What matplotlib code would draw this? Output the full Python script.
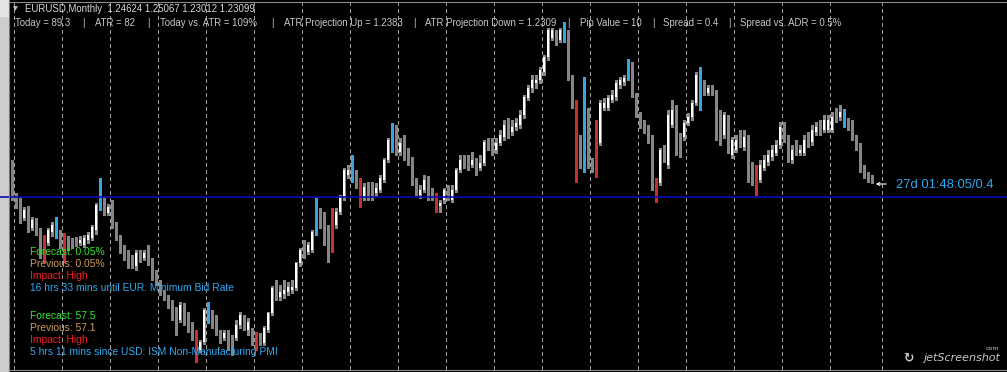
import numpy as np
import matplotlib
matplotlib.use("Agg")
import matplotlib.pyplot as plt
from matplotlib.patches import Rectangle
from matplotlib.lines import Line2D

# ---------------- data (EURUSD monthly OHLC) ----------------
opens = [
    1.2755, 1.2005, 1.183, 1.143, 1.163, 1.118, 1.138, 1.113, 1.0505, 1.0805,
    1.108, 1.123, 1.108, 1.0755, 1.088, 1.083, 1.088, 1.0805, 1.0755, 1.088,
    1.093, 1.113, 1.1755, 1.188, 1.1555, 1.1755, 1.1255, 1.093, 1.063, 1.048,
    1.043, 1.023, 1.0555, 1.043, 1.058, 1.033, 1.0005, 0.983, 0.958, 0.943,
    0.9255, 0.9005, 0.888, 0.9255, 0.893, 0.8705, 0.8455, 0.813, 0.833, 0.913,
    0.908, 0.893, 0.858, 0.843, 0.8555, 0.838, 0.843, 0.8755, 0.893, 0.863,
    0.863, 0.8505, 0.843, 0.8305, 0.863, 0.9055, 0.963, 0.9455, 0.953, 0.958,
    0.963, 0.968, 1.0305, 1.068, 1.058, 1.063, 1.1055, 1.1505, 1.138, 1.113,
    1.158, 1.1255, 1.158, 1.1955, 1.2505, 1.243, 1.2505, 1.2305, 1.1955, 1.2205,
    1.2205, 1.2055, 1.213, 1.238, 1.288, 1.313, 1.368, 1.308, 1.3255, 1.3055,
    1.288, 1.2305, 1.2005, 1.213, 1.238, 1.2055, 1.1955, 1.173, 1.188, 1.213,
    1.188, 1.213, 1.263, 1.288, 1.283, 1.2755, 1.2805, 1.268, 1.2805, 1.333,
    1.3305, 1.313, 1.3305, 1.3455, 1.3755, 1.358, 1.3705, 1.3755, 1.4005, 1.443,
    1.468, 1.4805, 1.488, 1.508, 1.5455, 1.593, 1.6005, 1.588, 1.588, 1.608,
    1.493, 1.4305, 1.338, 1.2755, 1.4005, 1.2805, 1.268, 1.3305, 1.418, 1.418,
    1.438, 1.4455, 1.4755, 1.483, 1.493, 1.5255, 1.4455, 1.4005, 1.3755, 1.363,
    1.343, 1.2305, 1.2305, 1.313, 1.2755, 1.3755, 1.413, 1.3455, 1.3455, 1.3805,
    1.3955, 1.4305, 1.4505, 1.468, 1.4555, 1.463, 1.4555, 1.4005, 1.3505, 1.393,
    1.3005, 1.313, 1.3455, 1.3205, 1.338, 1.2705, 1.2305, 1.238, 1.268, 1.283,
    1.2955, 1.3055, 1.3255, 1.3705, 1.338, 1.288, 1.3255, 1.3055, 1.3055, 1.338,
    1.333, 1.358, 1.368, 1.363, 1.363, 1.363, 1.4055, 1.3955, 1.4055, 1.383,
    1.3755, 1.343, 1.3205, 1.268, 1.2505, 1.24624,
]
highs = [
    1.288, 1.2055, 1.193, 1.1705, 1.173, 1.1455, 1.143, 1.118, 1.1005, 1.118,
    1.133, 1.1455, 1.113, 1.1055, 1.098, 1.093, 1.0955, 1.098, 1.1005, 1.108,
    1.1255, 1.1805, 1.243, 1.1955, 1.178, 1.188, 1.133, 1.1005, 1.0755, 1.063,
    1.0505, 1.063, 1.063, 1.063, 1.0755, 1.043, 1.013, 0.988, 0.963, 0.9505,
    0.938, 0.9205, 0.933, 0.9305, 0.908, 0.883, 0.863, 0.838, 0.918, 0.933,
    0.913, 0.9005, 0.863, 0.863, 0.863, 0.8505, 0.888, 0.908, 0.9005, 0.893,
    0.868, 0.858, 0.8555, 0.873, 0.908, 0.973, 0.988, 0.9755, 0.988, 0.983,
    0.988, 1.033, 1.068, 1.088, 1.083, 1.113, 1.193, 1.168, 1.158, 1.1255,
    1.168, 1.168, 1.2005, 1.268, 1.2755, 1.3005, 1.263, 1.243, 1.2305, 1.233,
    1.233, 1.2305, 1.2505, 1.293, 1.343, 1.3805, 1.3755, 1.343, 1.3505, 1.318,
    1.2955, 1.243, 1.2255, 1.2505, 1.248, 1.218, 1.2055, 1.188, 1.218, 1.2255,
    1.2255, 1.268, 1.3005, 1.3005, 1.3005, 1.308, 1.293, 1.3005, 1.338, 1.343,
    1.343, 1.343, 1.363, 1.388, 1.393, 1.388, 1.393, 1.413, 1.4505, 1.4755,
    1.5005, 1.5005, 1.5205, 1.5505, 1.618, 1.618, 1.613, 1.618, 1.633, 1.613,
    1.5005, 1.438, 1.3505, 1.4955, 1.418, 1.293, 1.388, 1.438, 1.443, 1.4505,
    1.463, 1.488, 1.4955, 1.5005, 1.5405, 1.533, 1.4555, 1.408, 1.388, 1.3755,
    1.3505, 1.243, 1.318, 1.3255, 1.413, 1.438, 1.4255, 1.3555, 1.388, 1.4055,
    1.438, 1.508, 1.5205, 1.488, 1.4755, 1.4755, 1.463, 1.413, 1.408, 1.4005,
    1.3455, 1.3505, 1.363, 1.363, 1.3505, 1.283, 1.2755, 1.288, 1.3005, 1.313,
    1.3255, 1.338, 1.383, 1.383, 1.3505, 1.3255, 1.338, 1.3255, 1.3505, 1.358,
    1.3755, 1.383, 1.388, 1.4005, 1.4005, 1.408, 1.418, 1.4255, 1.4155, 1.393,
    1.388, 1.3505, 1.3305, 1.2755, 1.258, 1.25067,
]
lows = [
    1.188, 1.168, 1.1305, 1.138, 1.108, 1.113, 1.1005, 1.043, 1.033, 1.0755,
    1.098, 1.093, 1.068, 1.033, 1.063, 1.068, 1.073, 1.0755, 1.0705, 1.0805,
    1.088, 1.103, 1.163, 1.1505, 1.1505, 1.118, 1.088, 1.0555, 1.038, 1.018,
    1.018, 1.013, 1.033, 1.038, 1.0255, 0.988, 0.9755, 0.9505, 0.938, 0.918,
    0.888, 0.8505, 0.883, 0.8755, 0.858, 0.838, 0.783, 0.808, 0.828, 0.8805,
    0.868, 0.8505, 0.8305, 0.838, 0.813, 0.8005, 0.838, 0.868, 0.863, 0.8505,
    0.8255, 0.813, 0.8255, 0.8255, 0.858, 0.9005, 0.938, 0.938, 0.943, 0.9505,
    0.9555, 0.963, 1.023, 1.043, 1.053, 1.058, 1.1005, 1.118, 1.0755, 1.033,
    1.058, 1.118, 1.153, 1.188, 1.243, 1.233, 1.218, 1.1705, 1.188, 1.188,
    1.188, 1.198, 1.208, 1.233, 1.283, 1.308, 1.3005, 1.3005, 1.288, 1.2755,
    1.2255, 1.2005, 1.193, 1.208, 1.188, 1.188, 1.158, 1.158, 1.1805, 1.188,
    1.183, 1.208, 1.258, 1.268, 1.263, 1.2705, 1.2505, 1.263, 1.2755, 1.313,
    1.3005, 1.3055, 1.3255, 1.338, 1.343, 1.3505, 1.363, 1.368, 1.393, 1.438,
    1.458, 1.468, 1.4805, 1.5005, 1.538, 1.588, 1.5755, 1.583, 1.583, 1.488,
    1.418, 1.233, 1.268, 1.258, 1.268, 1.258, 1.2455, 1.3255, 1.413, 1.413,
    1.433, 1.438, 1.468, 1.4755, 1.488, 1.4455, 1.3955, 1.368, 1.3555, 1.3305,
    1.213, 1.183, 1.2255, 1.283, 1.268, 1.3705, 1.3005, 1.2955, 1.338, 1.3755,
    1.388, 1.4255, 1.413, 1.4505, 1.4505, 1.4505, 1.338, 1.3255, 1.343, 1.3055,
    1.293, 1.308, 1.3205, 1.313, 1.233, 1.2255, 1.2005, 1.233, 1.263, 1.2755,
    1.288, 1.3005, 1.318, 1.333, 1.283, 1.2805, 1.3005, 1.3005, 1.3005, 1.3205,
    1.3255, 1.3505, 1.3505, 1.358, 1.358, 1.358, 1.383, 1.388, 1.3705, 1.363,
    1.338, 1.313, 1.258, 1.243, 1.233, 1.23012,
]
closes = [
    1.2005, 1.1755, 1.138, 1.163, 1.118, 1.138, 1.108, 1.0505, 1.0805, 1.113,
    1.1255, 1.108, 1.0755, 1.063, 1.0705, 1.0755, 1.0805, 1.088, 1.093, 1.1005,
    1.1205, 1.1755, 1.193, 1.1555, 1.1705, 1.1255, 1.093, 1.063, 1.043, 1.0255,
    1.023, 1.0555, 1.043, 1.0555, 1.033, 0.998, 0.983, 0.958, 0.943, 0.923,
    0.893, 0.863, 0.9255, 0.883, 0.863, 0.8455, 0.8255, 0.833, 0.913, 0.9005,
    0.8755, 0.858, 0.838, 0.8555, 0.8255, 0.813, 0.8755, 0.9005, 0.873, 0.883,
    0.838, 0.8255, 0.8355, 0.868, 0.9055, 0.968, 0.9455, 0.958, 0.963, 0.9705,
    0.9705, 1.0305, 1.063, 1.0555, 1.0755, 1.108, 1.1705, 1.1255, 1.088, 1.063,
    1.068, 1.158, 1.1955, 1.263, 1.263, 1.288, 1.2255, 1.188, 1.2205, 1.193,
    1.1955, 1.218, 1.243, 1.288, 1.338, 1.368, 1.313, 1.3305, 1.3005, 1.288,
    1.2305, 1.2055, 1.213, 1.238, 1.1955, 1.1955, 1.163, 1.1805, 1.213, 1.1955,
    1.213, 1.263, 1.288, 1.283, 1.2755, 1.288, 1.263, 1.2805, 1.333, 1.3255,
    1.313, 1.3305, 1.3505, 1.3755, 1.3555, 1.3705, 1.3805, 1.4005, 1.4455, 1.468,
    1.488, 1.488, 1.513, 1.5455, 1.613, 1.613, 1.588, 1.613, 1.613, 1.493,
    1.4255, 1.2755, 1.2755, 1.413, 1.2755, 1.268, 1.3305, 1.4305, 1.4305, 1.443,
    1.4505, 1.4805, 1.488, 1.493, 1.5255, 1.4505, 1.4005, 1.3755, 1.363, 1.338,
    1.2305, 1.2255, 1.313, 1.288, 1.4005, 1.413, 1.3055, 1.3055, 1.3805, 1.3955,
    1.4305, 1.5005, 1.5055, 1.4555, 1.468, 1.4555, 1.3455, 1.3505, 1.4005, 1.313,
    1.338, 1.338, 1.3255, 1.3455, 1.238, 1.2305, 1.2705, 1.2755, 1.288, 1.3005,
    1.313, 1.3255, 1.3705, 1.338, 1.288, 1.313, 1.3055, 1.313, 1.338, 1.3255,
    1.363, 1.3705, 1.3555, 1.388, 1.388, 1.3955, 1.388, 1.408, 1.3755, 1.3705,
    1.343, 1.3205, 1.263, 1.2505, 1.238, 1.23099,
]
# candle colouring: w = up (white), g = down (grey), r = red marked bar, b = blue marked bar
candle_kind = list(
    "gggwgwggrw" "wbgrgggwww" "wwbgwggggg" "gwgwgggggg" "ggwgggrwwb"
    "gggwggwwgw" "grgwwwgwww" "wwwgwwbggg" "rwwwwbgrwg" "gwwwwbgwgg"
    "ggwwggrwwg" "wwwggwgwwg" "gwwwgwwwww" "wwwwwwgwbg" "grgbggrwww"
    "wwwwbggggg" "grwgwwggww" "wwbgwgggwg" "wwgwggrwww" "wwwggwgwwg"
    "wwgwwwgwbg" "gggggg"
)
blue_level = 1.1955
symbol_line = "EURUSD,Monthly  1.24624 1.25067 1.23012 1.23099"
info_items = ["Today = 89.3", "ATR = 82", "Today vs. ATR = 109%",
              "ATR Projection Up = 1.2383", "ATR Projection Down = 1.2309",
              "Pip Value = 10", "Spread = 0.4", "Spread vs. ADR = 0.5%"]
news_lines = [("Forecast: 0.05%", "fc"), ("Previous: 0.05%", "pv"), ("Impact: High", "im"),
              ("16 hrs 33 mins until EUR: Minimum Bid Rate", "tx"), ("", ""),
              ("Forecast: 57.5", "fc"), ("Previous: 57.1", "pv"), ("Impact: High", "im"),
              ("5 hrs 11 mins since USD: ISM Non-Manufacturing PMI", "tx")]
timer_label = "27d 01:48:05/0.4"

# ---------------- figure ----------------
W, H = 1007, 372
FONT = "Liberation Sans"
fig = plt.figure(figsize=(W / 100, H / 100), dpi=100, facecolor="black")
ax = fig.add_axes([0, 0, 1, 1])
ax.set_facecolor("black")
# bar i sits at pixel 12 + 4*i
ax.set_xlim(-3, (W - 12) / 4)
ax.set_ylim(0.758, 1.688)
ax.axis("off")

n = len(opens)
xs = np.arange(n)

# vertical dotted time grid (yearly)
grid_x = [0.5 + 12 * k for k in range(18)] + [217.5]
for gx in grid_x:
    ax.axvline(gx, ymin=3 / H, ymax=1 - 2 / H, color="#9c9c9c", lw=0.72,
               ls=(0, (4, 3)), zorder=1, antialiased=False)

body_col = {"w": "#ffffff", "g": "#858585", "r": "#c83030", "b": "#3aa4e0"}
wick_col = {"w": "#8a8a8a", "g": "#858585", "r": "#c83030", "b": "#3aa4e0"}
o = np.array(opens); c = np.array(closes)
bottoms = np.minimum(o, c)
heights = np.maximum(np.abs(c - o), 0.003)
ax.vlines(xs, lows, highs, colors=[wick_col[k] for k in candle_kind], lw=0.75, zorder=2,
          antialiased=False)
ax.bar(xs, heights, bottom=bottoms, width=0.5, color=[body_col[k] for k in candle_kind],
       linewidth=0, zorder=3, antialiased=False)

ax.axhline(blue_level, color="#0c0cb8", lw=1.2, zorder=4)


def ftext(px, py, s, color, size, family=FONT, **kw):
    return fig.text(px / W, 1 - py / H, s, color=color, fontsize=size, va="center",
                    ha="left", family=family, **kw)


# window frame
fig.add_artist(Rectangle((0, 0), 8 / W, 1, transform=fig.transFigure, color="#cdcdcd", zorder=0))
fig.add_artist(Rectangle((0, 1 - 16 / H), 8 / W, 16 / H, transform=fig.transFigure,
                         color="#e4e4e4", zorder=0))
fig.add_artist(Line2D([9 / W, 9 / W], [0, 1], transform=fig.transFigure, color="#7a7a7a", lw=0.8))
fig.add_artist(Line2D([9 / W, 1], [1 - 1.5 / H, 1 - 1.5 / H], transform=fig.transFigure,
                      color="#8a8a8a", lw=0.8))
fig.add_artist(Line2D([9 / W, 1], [1 - 369.5 / H, 1 - 369.5 / H], transform=fig.transFigure,
                      color="#8a8a8a", lw=0.8))

# header
ftext(13, 9, "\u25BC", "#c8c8c8", 4.5, family=["DejaVu Sans"])
ftext(25, 9.5, symbol_line, "#d8d8d8", 6.9)
info_x = [15, 95, 160, 284, 425, 580, 663, 740]
sep_x = [82, 147, 271, 413, 567, 652, 728]
for ix, s in zip(info_x, info_items):
    ftext(ix, 23, s, "#c8c8c8", 6.9)
for sx in sep_x:
    ftext(sx, 23, "|", "#c8c8c8", 6.9)

# news block
news_col = {"fc": "#33e633", "pv": "#d29a5c", "im": "#ee2020", "tx": "#2ea8ee"}
ny = [252, 264, 276, 288, 300, 316, 328, 340, 352]
for (s, k), yy in zip(news_lines, ny):
    if s:
        ftext(30, yy, s, news_col[k], 7.4)

# countdown label with arrow
ax.annotate("", xy=(873 / W, 1 - 184 / H), xytext=(889 / W, 1 - 184 / H),
            xycoords="figure fraction", textcoords="figure fraction",
            arrowprops=dict(arrowstyle="->", color="white", lw=0.8, mutation_scale=5))
ftext(896, 185, timer_label, "#2ea8ee", 9.4)

# watermark
ftext(903, 358, "\u21BB", "#c8c8c8", 9, family=["DejaVu Sans"], fontweight="bold")
ftext(923, 358, "jetScreenshot", "#c8c8c8", 8.0, family=["DejaVu Sans"], style="italic")
ftext(986, 349, "com", "#c8c8c8", 4.5, family=["DejaVu Sans"])

fig.savefig("out.png", dpi=100, facecolor="black")
